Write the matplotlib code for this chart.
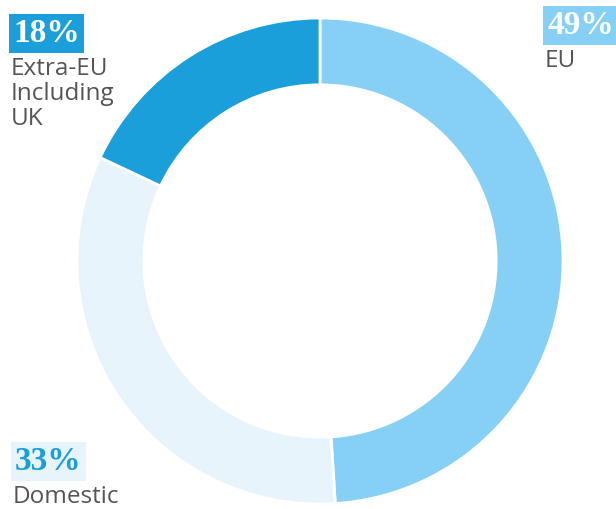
import matplotlib
matplotlib.use("Agg")
import matplotlib.pyplot as plt

categories = ["EU", "Domestic", "Extra-EU\nIncluding\nUK"]
shares = [49, 33, 18]
colors = ["#86D0F5", "#E7F4FC", "#1A9FDB"]
pct_text_colors = ["white", "#1A9FDB", "white"]

W, H = 616, 509
fig = plt.figure(figsize=(W / 100, H / 100), dpi=100)

cx, cy, r = 320, 261, 243
ax = fig.add_axes([(cx - r) / W, (H - cy - r) / H, 2 * r / W, 2 * r / H])
ax.pie(shares, colors=colors, startangle=90, counterclock=False,
       radius=1.0, wedgeprops=dict(width=0.275, edgecolor="white", linewidth=2))
ax.set_xlim(-1, 1)
ax.set_ylim(-1, 1)
ax.set_aspect("equal")
ax.axis("off")

# label anchors in pixel positions (left, top of percent box)
anchors = {"EU": (547, 10), "Domestic": (15, 446), "Extra-EU\nIncluding\nUK": (13, 18)}

def fx(px):
    return px / W

def fy(py):
    return 1 - py / H

for cat, val, col, tcol in zip(categories, shares, colors, pct_text_colors):
    x0, y0 = anchors[cat]
    fig.text(fx(x0), fy(y0), f"{val}%", ha="left", va="top",
             fontsize=24, family="Liberation Serif", weight="bold", color=tcol,
             bbox=dict(boxstyle="square,pad=0.12", facecolor=col, edgecolor="none"))
    fig.text(fx(x0 - 2), fy(y0 + 39), cat, ha="left", va="top",
             fontsize=17.5, family="Open Sans", color="#555555", linespacing=1.05)

fig.savefig("out.png", dpi=100, facecolor="white")
